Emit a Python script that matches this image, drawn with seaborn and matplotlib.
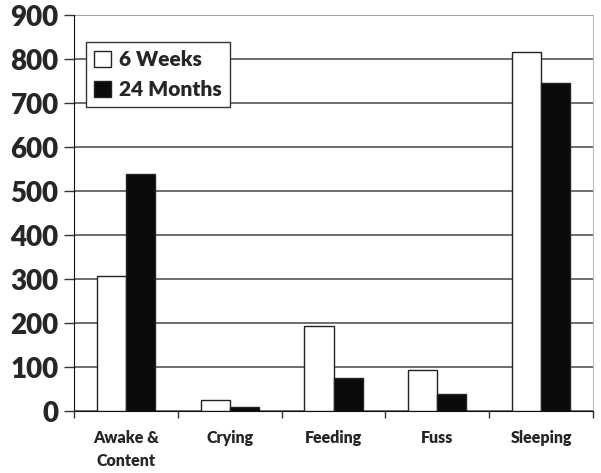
import pandas as pd
import matplotlib
matplotlib.use('Agg')
import matplotlib.pyplot as plt
import seaborn as sns
import numpy as np

# Dados
atividades = ['Awake &\nContent', 'Crying', 'Feeding', 'Fuss', 'Sleeping']
semanas_6 = [307, 26, 194, 93, 817]
meses_24 = [539, 10, 75, 39, 745]
grupos = ['6 Weeks', '24 Months']

df = pd.DataFrame({
    'atividade': atividades * 2,
    'valor': semanas_6 + meses_24,
    'grupo': [grupos[0]] * 5 + [grupos[1]] * 5,
})

sns.set_style('white')
plt.rcParams['font.family'] = ['Lato', 'DejaVu Sans']
peso = 'heavy'

fig = plt.figure(figsize=(6.01, 4.73), dpi=100)
ax = fig.add_axes([0.123, 0.131, 0.864, 0.837])

sns.barplot(data=df, x='atividade', y='valor', hue='grupo',
            palette=['white', '#0a0a0a'], edgecolor='#222222', linewidth=1,
            width=0.56, ax=ax, zorder=3)

ax.set_ylim(0, 900)
ax.set_xlim(-0.5, 4.5)
ax.set_yticks(range(0, 901, 100))
ax.yaxis.grid(True, color='#555555', linewidth=1.2, zorder=0)
ax.set_axisbelow(True)
ax.set_xlabel('')
ax.set_ylabel('')

ax.tick_params(axis='y', labelsize=20, length=7, width=1, direction='out',
               left=True, color='#333333', pad=4)
ax.tick_params(axis='x', which='major', labelsize=11.5, length=0, pad=14)
ax.set_xticks(np.arange(-0.5, 5, 1), minor=True)
ax.tick_params(axis='x', which='minor', length=5, width=1, direction='out',
               bottom=True, color='#333333')

for lbl in ax.get_yticklabels() + ax.get_xticklabels():
    lbl.set_fontweight(peso)
for lbl in ax.get_xticklabels():
    lbl.set_linespacing(1.5)

ax.spines['left'].set_color('#111111')
ax.spines['bottom'].set_color('#111111')
ax.spines['right'].set_color('#b5bcbc')
ax.spines['top'].set_visible(False)
ax.axhline(900, color='#a9b0b0', linewidth=1.2, zorder=1)

ax.legend(loc='upper left', bbox_to_anchor=(0.023, 0.932), frameon=True,
          fancybox=False, edgecolor='#333333', framealpha=1,
          prop={'size': 15, 'weight': peso}, handlelength=0.8,
          handleheight=0.8, handletextpad=0.4, borderpad=0.4,
          labelspacing=0.5, borderaxespad=0)

plt.savefig('out.png', dpi=100)
